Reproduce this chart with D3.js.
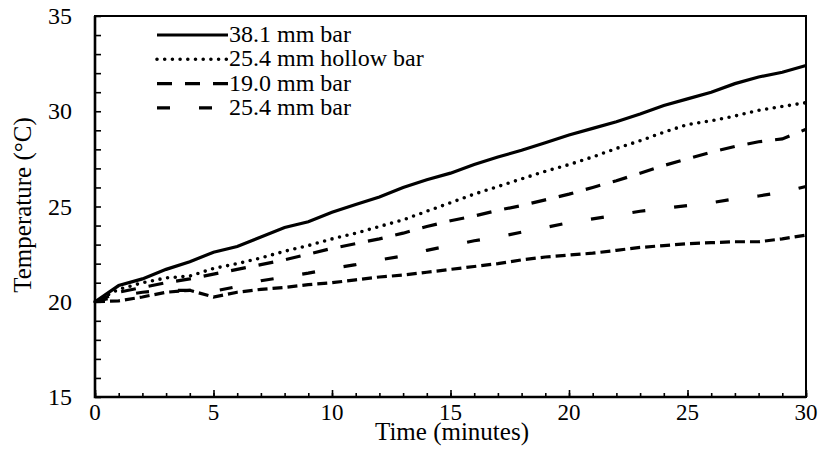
<!DOCTYPE html>
<html>
<head>
<meta charset="utf-8">
<script src="https://cdn.jsdelivr.net/npm/d3@7"></script>
<style>
  body { margin: 0; background: #fff; }
  svg text { font-family: "Liberation Serif", Tinos, "Times New Roman", "DejaVu Serif", serif; fill: #000; }
</style>
</head>
<body>
<div id="chart"></div>
<script>
const W = 823;
const H = 465;
const margin = { top: 16, bottom: 68, left: 95, right: 17 };
const width = W - margin.left - margin.right;
const height = H - margin.top - margin.bottom;
const serif = '"Liberation Serif", Tinos, "Times New Roman", "DejaVu Serif", serif';

// time in minutes
const minutes = [0, 1, 2, 3, 4, 5, 6, 7, 8, 9, 10, 11, 12, 13, 14, 15,
  16, 17, 18, 19, 20, 21, 22, 23, 24, 25, 26, 27, 28, 29, 30];

// temperatures (°C)
const bar381 = [20.0, 20.85, 21.2, 21.7, 22.1, 22.6, 22.9, 23.4, 23.9, 24.2, 24.7,
  25.1, 25.5, 26.0, 26.4, 26.75, 27.2, 27.6, 27.95, 28.35, 28.75,
  29.1, 29.45, 29.85, 30.3, 30.65, 31.0, 31.45, 31.8, 32.05, 32.4];
const hollow254 = [20.0, 20.65, 21.0, 21.25, 21.35, 21.75, 22.0, 22.3, 22.65, 22.95, 23.3,
  23.6, 23.95, 24.3, 24.75, 25.2, 25.65, 26.05, 26.45, 26.85, 27.2,
  27.6, 28.05, 28.45, 28.9, 29.3, 29.5, 29.75, 30.05, 30.25, 30.45];
const bar190 = [20.0, 20.5, 20.75, 21.0, 21.2, 21.45, 21.7, 21.95, 22.2, 22.5, 22.8,
  23.05, 23.3, 23.6, 23.95, 24.25, 24.5, 24.8, 25.05, 25.35, 25.65,
  26.0, 26.35, 26.75, 27.15, 27.5, 27.85, 28.15, 28.4, 28.55, 29.05];
const bar254 = [20.0, 20.3, 20.5, 20.6, 20.6, 20.55, 20.8, 21.1, 21.3, 21.5, 21.75,
  21.95, 22.2, 22.4, 22.7, 22.95, 23.2, 23.4, 23.65, 23.9, 24.15,
  24.35, 24.55, 24.75, 24.9, 25.05, 25.2, 25.4, 25.55, 25.75, 26.05];
const unlabelled = [20.0, 20.05, 20.25, 20.5, 20.6, 20.25, 20.5, 20.65, 20.75, 20.9, 21.0,
  21.15, 21.3, 21.4, 21.55, 21.7, 21.85, 22.0, 22.2, 22.35, 22.45,
  22.55, 22.7, 22.85, 22.95, 23.05, 23.1, 23.15, 23.15, 23.3, 23.5];

const xTicks = [0, 5, 10, 15, 20, 25, 30];
const yTicks = [15, 20, 25, 30, 35];

// name, values, dash pattern
const series = [
  ["38.1 mm bar", bar381, null],
  ["25.4 mm hollow bar", hollow254, "0,7.7"],
  ["19.0 mm bar", bar190, "15,13"],
  ["25.4 mm bar", bar254, "13,29"],
  [null, unlabelled, "10,5"],
];

const svg = d3
  .select("#chart")
  .append("svg")
  .attr("width", W)
  .attr("height", H);

const g = svg
  .append("g")
  .attr("transform", `translate(${margin.left}, ${margin.top})`);

const x = d3.scaleLinear().domain([0, 30]).range([0, width]);
const y = d3.scaleLinear().domain([15, 35]).range([height, 0]);

// minor ticks (inside)
const xMinor = d3
  .axisTop(x)
  .ticks(30)
  .tickFormat("")
  .tickSizeInner(4)
  .tickSizeOuter(0);
const xMajor = d3
  .axisTop(x)
  .tickValues(xTicks)
  .tickFormat("")
  .tickSizeInner(7)
  .tickSizeOuter(0);
const yMinor = d3
  .axisRight(y)
  .ticks(20)
  .tickFormat("")
  .tickSizeInner(6)
  .tickSizeOuter(0);

g.append("g").attr("class", "axis").attr("transform", "translate(0," + height + ")").call(xMinor);
g.append("g").attr("class", "axis").attr("transform", "translate(0," + height + ")").call(xMajor);
g.append("g").attr("class", "axis").call(yMinor);
g.selectAll(".axis path").remove();
g.selectAll(".axis line").attr("stroke", "#000").attr("stroke-width", 1.6);

// frame
g.append("rect")
  .attr("x", 0)
  .attr("y", 0)
  .attr("width", width)
  .attr("height", height)
  .attr("fill", "none")
  .attr("stroke", "#000")
  .attr("stroke-width", 2);
g.append("path")
  .attr("d", `M0,0V${height}H${width}`)
  .attr("fill", "none")
  .attr("stroke", "#000")
  .attr("stroke-width", 2.6);

// tick labels
g.selectAll("text.xlab")
  .data(xTicks)
  .enter()
  .append("text")
  .attr("class", "xlab")
  .attr("x", (d) => x(d))
  .attr("y", height + 23)
  .attr("text-anchor", "middle")
  .attr("font-family", serif)
  .attr("font-size", 23)
  .text((d) => d);

g.selectAll("text.ylab")
  .data(yTicks)
  .enter()
  .append("text")
  .attr("class", "ylab")
  .attr("x", -23)
  .attr("y", (d) => y(d) + 8)
  .attr("text-anchor", "end")
  .attr("font-family", serif)
  .attr("font-size", 24)
  .text((d) => d);

// axis titles
svg.append("text")
  .attr("x", 452)
  .attr("y", 440)
  .attr("text-anchor", "middle")
  .attr("font-family", serif)
  .attr("font-size", 25)
  .text("Time (minutes)");

svg.append("text")
  .attr("transform", "translate(31,205) rotate(-90)")
  .attr("text-anchor", "middle")
  .attr("font-family", serif)
  .attr("font-size", 25)
  .text("Temperature (°C)");

// lines
const line = d3
  .line()
  .x((d, i) => x(minutes[i]))
  .y((d) => y(d));

g.selectAll("path.temp")
  .data(series)
  .enter()
  .append("path")
  .attr("class", "temp")
  .attr("d", (d) => line(d[1]))
  .attr("fill", "none")
  .attr("stroke", "#000")
  .attr("stroke-width", (d) => (d[2] === "0,7.7" ? 3.6 : 3.2))
  .attr("stroke-linecap", (d) => (d[2] === "0,7.7" ? "round" : "butt"))
  .attr("stroke-dasharray", (d) => d[2]);

// legend
const legend = g.append("g").attr("class", "legend");
legend
  .selectAll("g")
  .data(series.filter((d) => d[0]))
  .enter()
  .append("g")
  .each(function (d, i) {
    const row = d3.select(this);
    const ly = 19 + i * 24.3;
    row.append("line")
      .attr("x1", 62)
      .attr("x2", 133)
      .attr("y1", ly)
      .attr("y2", ly)
      .attr("stroke", "#000")
      .attr("stroke-width", d[2] === "0,7.7" ? 3.6 : 3.2)
      .attr("stroke-linecap", d[2] === "0,7.7" ? "round" : "butt")
      .attr("stroke-dasharray", d[2]);
    row.append("text")
      .attr("x", 134)
      .attr("y", ly + 7)
      .attr("font-family", serif)
      .attr("font-size", 24)
      .text(d[0]);
  });
</script>
</body>
</html>
